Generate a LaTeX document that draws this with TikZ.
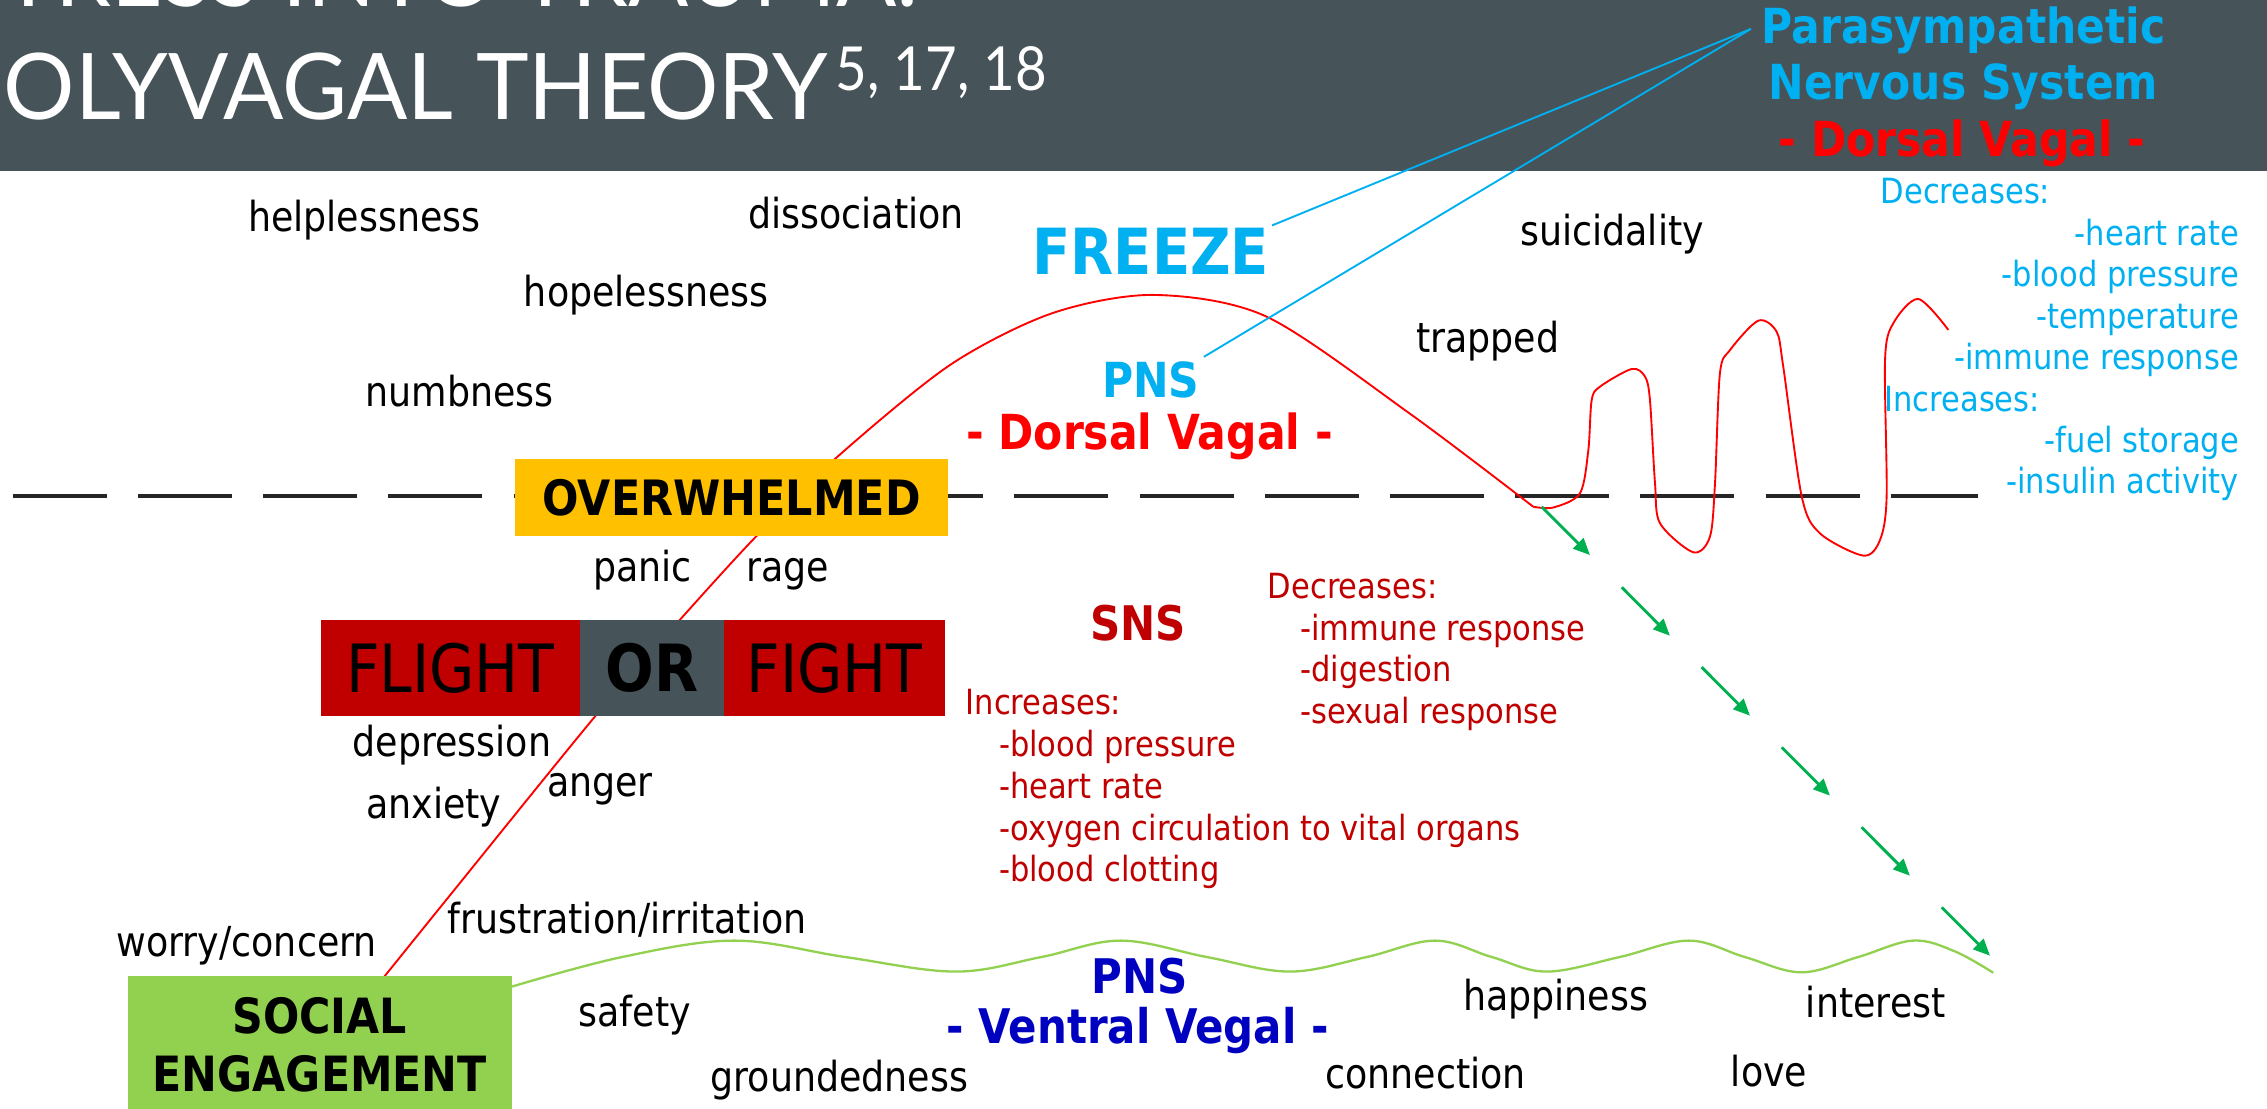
\documentclass[tikz,border=0pt]{standalone}
\usepackage{fontspec}
\setmainfont{DejaVu Sans}[FakeStretch=0.88]
\newfontfamily\titlefont{Lato}[FakeStretch=0.97]
\newfontfamily\supfont{Lato}[FakeStretch=0.9]
\usetikzlibrary{arrows.meta}
\definecolor{titlebar}{HTML}{465359}
\definecolor{pnsblue}{HTML}{00B0F0}
\definecolor{snsred}{HTML}{C00000}
\definecolor{brightred}{HTML}{FF0000}
\definecolor{ventral}{HTML}{0000C0}
\definecolor{overyellow}{HTML}{FFC000}
\definecolor{socialgreen}{HTML}{92D050}
\definecolor{arrowgreen}{HTML}{00B050}
\begin{document}
\begin{tikzpicture}[x=1pt,y=-1pt,
  every node/.style={inner sep=0pt, outer sep=0pt},
  word/.style={anchor=base, text=black, font=\fontsize{28.6}{34}\selectfont},
  listtxt/.style={font=\fontsize{24}{29}\selectfont},
  bigbold/.style={anchor=base, font=\bfseries\fontsize{33.4}{40}\selectfont},
  boxlabel/.style={font=\bfseries\fontsize{33.6}{40.4}\selectfont, text=black},
  ffbox/.style={minimum height=66.4, anchor=west, font=\fontsize{46}{50}\selectfont, text=black},
  calm/.style={-{Triangle[length=11.5,width=10]}, arrowgreen, line width=2}
]
\useasboundingbox (0,0) rectangle (1568,767);
\clip (0,0) rectangle (1568,767);
\fill[white] (0,0) rectangle (1568,767);
% title bar
\fill[titlebar] (0,0) rectangle (1568,118);
\node[anchor=base west, text=white, font=\titlefont\fontsize{63.6}{70}\selectfont] (title0) at (2,4.6) {TRESS INTO TRAUMA:};
\node[anchor=base west, text=white, font=\titlefont\fontsize{63.6}{70}\selectfont] (title) at (2.6,82.5) {OLYVAGAL THEORY};
\node[anchor=base west, text=white, font=\supfont\fontsize{42}{46}\selectfont] (titlesup) at (578,62.7) {5, 17, 18};
% header on right
\node[bigbold, text=pnsblue] (parasym) at (1358,30) {Parasympathetic};
\node[bigbold, text=pnsblue] (nervous) at (1358,69) {Nervous System};
\node[bigbold, text=brightred] (dorsalhead) at (1357,108.4) {- Dorsal Vagal -};
% PNS dorsal list
\begin{scope}[every node/.append style={listtxt, text=pnsblue}]
\node[anchor=base west] (pdec) at (1300.9,140.6) {Decreases:};
\node[anchor=base east] (phr) at (1548.6,169.5) {-heart rate};
\node[anchor=base east] (pbp) at (1548.6,198.3) {-blood pressure};
\node[anchor=base east] (ptemp) at (1548.6,227) {-temperature};
\node[anchor=base east] (pimm) at (1548.6,255.5) {-immune response};
\node[anchor=base west] (pinc) at (1303.4,284.3) {Increases:};
\node[anchor=base east] (pfuel) at (1548.6,313) {-fuel storage};
\node[anchor=base east] (pins) at (1548.6,341.2) {-insulin activity};
\end{scope}
% dashed threshold line
\draw[black!85, line width=2.2, dash pattern=on 65 off 21.6] (8.8,343.1) -- (1368,343.1);
% big red curve
\draw[brightred, line width=1.3] plot[smooth, tension=0.5] coordinates {(265,676.5) (309,622) (412,495) (470,429) (523,371) (578,317) (657,252.5) (727.6,216.7) (798,204) (876,219) (975,286) (1060.5,350.5)};
\draw[brightred, line width=1.3] plot[smooth, tension=0.5] coordinates {(1060.5,350.5) (1074.4,351) (1092.8,341.2) (1098.6,311.2) (1100.9,276.7) (1106.7,267.4) (1128.6,255.2) (1137.8,260.5) (1141.2,276.7) (1144.7,334.3) (1148.2,362) (1171.2,382) (1182.7,371.2) (1186.2,334.3) (1189.6,258.2) (1196.6,242.1) (1216.1,221.8) (1228.8,229.4) (1233.4,253.6) (1246.2,343.5) (1258.8,368.9) (1288.8,384.3) (1300.3,373.5) (1304.9,343.5) (1303.8,249) (1309.5,223.6) (1326.8,206.8) (1347.6,228.2)};
% boxes
\node[fill=overyellow, minimum width=300, minimum height=53.5, font=\bfseries\fontsize{33.7}{40}\selectfont, text=black] (overwhelmed) at (506,344.25) {OVERWHELMED};
\node[ffbox, fill=snsred, minimum width=179] (flight) at (222,462) {FLIGHT};
\node[ffbox, fill=titlebar, minimum width=99.6, font=\bfseries\fontsize{45}{50}\selectfont] (or) at (flight.east) {OR};
\node[ffbox, fill=snsred, minimum width=153.1] (fight) at (or.east) {FIGHT};
\node[fill=socialgreen, minimum width=265.6, minimum height=95, boxlabel, align=center] (social) at (221.2,722.5) {SOCIAL\\ENGAGEMENT};
% green wave
\draw[socialgreen, line width=1.6] plot[smooth, tension=0.6] coordinates {(social.east |- 0,682.4) (430,662) (508,650.6) (585,662) (661,672) (720,662) (775,650.6) (835,662) (892,672) (945,662) (992.5,650.6) (1032,662) (1069.8,672) (1120,662) (1168,650.6) (1207,662) (1246,672.5) (1285,662) (1323,650.6) (1352,658) (1378.6,672.8)};
% green arrows
\coordinate (a1s) at (1066.3,350.5); \coordinate (a1e) at (1099.7,383.9);
\coordinate (a2s) at (1121.7,406.2); \coordinate (a2e) at (1155,439.7);
\coordinate (a3s) at (1177,461.5); \coordinate (a3e) at (1210.4,495);
\coordinate (a4s) at (1232.3,516.9); \coordinate (a4e) at (1265.7,550.3);
\coordinate (a5s) at (1287.6,572.2); \coordinate (a5e) at (1321,605.7);
\coordinate (a6s) at (1343,627.6); \coordinate (a6e) at (1376.4,661);
\foreach \i in {1,...,6} {\draw[calm] (a\i s) -- (a\i e);}
% FREEZE and PNS dorsal
\node[anchor=base, text=pnsblue, font=\bfseries\fontsize{44}{50}\selectfont, inner sep=2pt] (freeze) at (796,190) {FREEZE};
\node[bigbold, text=pnsblue, inner sep=3pt] (pnsdorsal) at (796,274.6) {PNS};
\node[bigbold, text=brightred] (dorsal) at (795,311) {- Dorsal Vagal -};
\coordinate (pnssrc) at (1211,20);
\draw[pnsblue, line width=1.3] (pnssrc) -- (freeze.north east);
\draw[pnsblue, line width=1.3] (pnssrc) -- (pnsdorsal.north east);
% emotion words
\node[word] (helpless) at (252,160) {helplessness};
\node[word] (dissoc) at (592,158) {dissociation};
\node[word] (hopeless) at (447,212) {hopelessness};
\node[word] (numb) at (318,281) {numbness};
\node[word] (suicid) at (1115,169.5) {suicidality};
\node[word] (trapped) at (1029,243.5) {trapped};
\node[word] (panic) at (444.5,402.3) {panic};
\node[word] (rage) at (545,402.3) {rage};
\node[word] (depress) at (312.5,523.4) {depression};
\node[word] (anxiety) at (300,566) {anxiety};
\node[word] (anger) at (415,551) {anger};
\node[word] (worry) at (170.6,661.7) {worry/concern};
\node[word] (frustr) at (433.6,645.5) {frustration/irritation};
\node[word] (safety) at (439,710) {safety};
\node[word] (ground) at (580.6,755) {groundedness};
\node[word] (happy) at (1076,698.6) {happiness};
\node[word] (interest) at (1297.4,704) {interest};
\node[word] (connect) at (986,753) {connection};
\node[word] (love) at (1223.6,751.6) {love};
% SNS
\node[bigbold, text=snsred, font=\bfseries\fontsize{33}{40}\selectfont] (sns) at (787,442.7) {SNS};
\begin{scope}[every node/.append style={listtxt, text=snsred, anchor=base west}]
\node (sdec) at (877,413.8) {Decreases:};
\node (simm) at (899.4,442.7) {-immune response};
\node (sdig) at (899.4,471.5) {-digestion};
\node (ssex) at (899.4,500.3) {-sexual response};
\node (sinc) at (668,494.5) {Increases:};
\node (sbp) at (691,523.4) {-blood pressure};
\node (shr) at (691,552) {-heart rate};
\node (soxy) at (691,581) {-oxygen circulation to vital organs};
\node (sclot) at (691,609.8) {-blood clotting};
\end{scope}
% PNS ventral
\node[bigbold, text=ventral, font=\bfseries\fontsize{33}{40}\selectfont] (pnsventral) at (788,687) {PNS};
\node[bigbold, text=ventral, font=\bfseries\fontsize{33}{40}\selectfont] (ventralvagal) at (786.8,721.6) {- Ventral Vegal -};
\end{tikzpicture}
\end{document}
